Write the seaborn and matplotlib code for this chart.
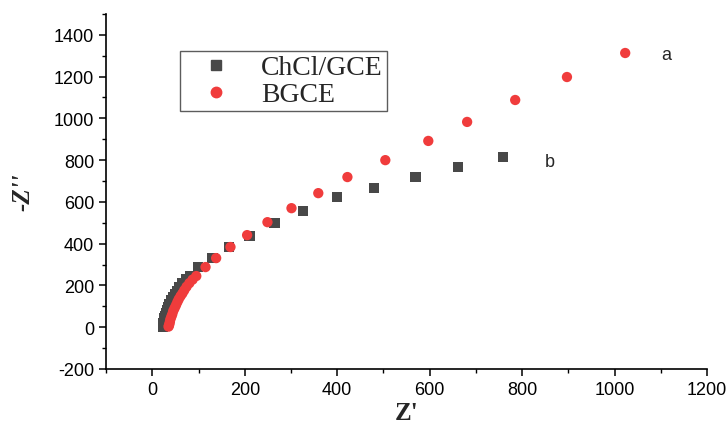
import matplotlib
matplotlib.use("Agg")
import matplotlib.pyplot as plt
import seaborn as sns
import pandas as pd
from matplotlib.ticker import MultipleLocator
from matplotlib.lines import Line2D

# ChCl/GCE (curve b)
chcl_x = [759, 662, 569, 480, 400, 326, 264, 210, 166, 130, 99, 82, 73, 65, 59, 54, 49, 45,
          41, 37, 34, 31, 29, 27, 26, 25, 24, 24, 23]
chcl_y = [815, 767, 719, 666, 623, 556, 499, 436, 384, 331, 288, 245, 228, 211, 192, 173, 158, 144,
          128, 112, 97, 82, 68, 55, 42, 30, 19, 10, 3]
# BGCE (curve a)
bgce_x = [1023, 897, 785, 681, 597, 504, 422, 359, 301, 249, 205, 169, 138, 115, 95, 87, 80, 74,
          69, 65, 61, 57, 54, 51, 48, 45, 43, 41, 39, 38, 37, 36, 35]
bgce_y = [1313, 1198, 1088, 983, 892, 800, 719, 642, 570, 503, 441, 384, 331, 288, 245, 228, 211, 194,
          177, 162, 149, 134, 120, 105, 91, 77, 62, 50, 38, 27, 17, 9, 3]

series_names = ["ChCl/GCE", "BGCE"]
colors = ["#484848", "#f03c3c"]

df = pd.DataFrame({
    "x": chcl_x + bgce_x,
    "y": chcl_y + bgce_y,
    "series": [series_names[0]] * len(chcl_x) + [series_names[1]] * len(bgce_x),
})

sns.set_theme(style="ticks")
plt.rcParams["axes.unicode_minus"] = False
fig = plt.figure(figsize=(7.27, 4.27), dpi=100)
ax = fig.add_axes([0.146, 0.1335, 0.8265, 0.8315])

sns.scatterplot(data=df, x="x", y="y", hue="series", style="series",
                markers={series_names[0]: "s", series_names[1]: "o"},
                palette=dict(zip(series_names, colors)),
                s=55, linewidth=0, ax=ax, legend=False)

ax.set_xlim(-100, 1200)
ax.set_ylim(-200, 1500)
ax.xaxis.set_minor_locator(MultipleLocator(100))
ax.yaxis.set_minor_locator(MultipleLocator(100))
ax.set_yticks([-200, 0, 200, 400, 600, 800, 1000, 1200, 1400])
ax.set_xticks([0, 200, 400, 600, 800, 1000, 1200])

for sp in ["top", "right"]:
    ax.spines[sp].set_visible(False)
for sp in ["left", "bottom"]:
    ax.spines[sp].set_color("black")
    ax.spines[sp].set_linewidth(1.2)

ax.tick_params(which="major", direction="out", length=5, width=1.1, colors="black",
               labelsize=13)
ax.tick_params(which="minor", direction="out", length=3, width=1.0, colors="black")
for lab in ax.get_xticklabels() + ax.get_yticklabels():
    lab.set_fontfamily("Liberation Sans")

ax.set_xlabel("Z'", fontsize=18, fontweight="bold", family="Liberation Serif", labelpad=2)
ax.set_ylabel("-Z''", fontsize=18, fontweight="bold", fontstyle="italic",
              family="Liberation Serif", labelpad=14)

ax.text(1100, 1306, "a", fontsize=13, family="Liberation Sans", va="center", ha="left")
ax.text(848, 794, "b", fontsize=13, family="Liberation Sans", va="center", ha="left")

handles = [
    Line2D([], [], marker="s", color=colors[0], linestyle="none", markersize=7),
    Line2D([], [], marker="o", color=colors[1], linestyle="none", markersize=7.5),
]
leg = ax.legend(handles, series_names, loc="upper left", bbox_to_anchor=(0.123, 0.896),
                prop={"family": "Liberation Serif", "size": 20}, frameon=True,
                fancybox=False, edgecolor="#333333", borderaxespad=0, handletextpad=0.48,
                borderpad=0.15, labelspacing=0.05, handlelength=2.28)
leg.get_frame().set_linewidth(1.0)

fig.savefig("out.png", dpi=100)
